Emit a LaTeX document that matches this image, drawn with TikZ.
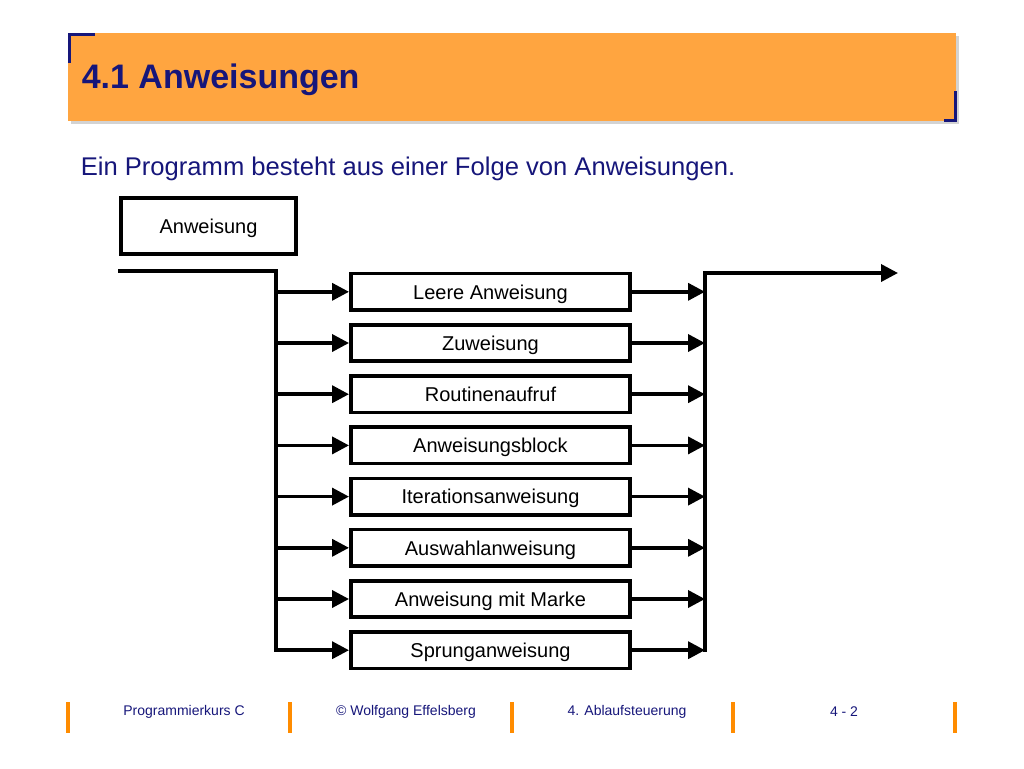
\documentclass[tikz,border=0pt]{standalone}
\usepackage{fontspec}
\setmainfont{Liberation Sans}
\usetikzlibrary{arrows.meta,matrix,shadows}
\definecolor{titleorange}{RGB}{255,165,64}
\definecolor{barorange}{RGB}{255,140,0}
\definecolor{navy}{RGB}{22,22,122}

\begin{document}
\begin{tikzpicture}[x=0.75pt,y=-0.75pt
	,>={Triangle[length=12.75pt,width=12.75pt]}
	,line width=2.7pt]
  \tikzstyle{stmt}
  =[draw,line width=2.7pt,minimum width=209.5pt,minimum height=27.3pt
  ,inner sep=0pt,text depth=0pt,font=\fontsize{15}{18}\selectfont]
  \tikzstyle{footbar}=[draw=barorange,line width=3pt]
  \tikzstyle{foot}=[text=navy,font=\fontsize{10.5}{12}\selectfont]

  \useasboundingbox (0,0) rectangle (1024,768);

  % title bar
  \fill[titleorange,drop shadow={opacity=0.35,shadow xshift=2pt,shadow yshift=-2pt}]
    (68,33) rectangle (956,121);
  \draw[navy,line width=2.25pt] (69,63) |- (95,34);
  \draw[navy,line width=2.25pt] (944,120) -| (955,91);
  \node[anchor=base west,inner sep=0pt,text=navy,font=\bfseries\fontsize{25.5}{30}\selectfont]
    (title) at (80,88) {4.1 Anweisungen};
  \node[anchor=base west,inner sep=0pt,text=navy,font=\fontsize{19.2}{23}\selectfont]
    (intro) at (79,175) {Ein Programm besteht aus einer Folge von Anweisungen.};

  % syntax diagram
  \node[stmt,minimum width=131.5pt,minimum height=42.3pt] (anw) at (208.5,226) {Anweisung};

  \matrix (m) [row sep=8.4pt] at (490.5,471) {
    \node[stmt](leer)   {Leere Anweisung};      \\
    \node[stmt](zuw)    {Zuweisung};            \\
    \node[stmt](rout)   {Routinenaufruf};       \\
    \node[stmt](block)  {Anweisungsblock};      \\
    \node[stmt](iter)   {Iterationsanweisung};  \\
    \node[stmt](ausw)   {Auswahlanweisung};     \\
    \node[stmt](marke)  {Anweisung mit Marke};  \\
    \node[stmt](sprung) {Sprunganweisung};      \\
  };

  \coordinate (in)    at (118,271);
  \coordinate (split) at (276,271);
  \coordinate (join)  at (705,273);
  \coordinate (out)   at (898,273);

  % left: in, split, branches
  \draw[->] (in) -- (split) |- (sprung.west);
  \foreach \n in {leer,zuw,rout,block,iter,ausw,marke}
    \draw[->] (split |- \n.west) -- (\n.west);
  % right: branches, join, out
  \foreach \n in {leer,zuw,rout,block,iter,ausw,marke,sprung}
    \draw[->] (\n.east) -- (join |- \n.east);
  \draw[->,line cap=rect] (join |- sprung.east) -- (join) -- (out);

  % footer
  \foreach \x in {68,290,512,733,955}
    \draw[footbar] (\x,702) -- (\x,733);
  \node[foot] (kurs)  at (184,712) {Programmierkurs C};
  \node[foot] (autor) at (406,712) {© Wolfgang Effelsberg};
  \node[foot] (kap)   at (627,712) {4. Ablaufsteuerung};
  \node[foot] (seite) at (844,712) {4 - 2};
\end{tikzpicture}
\end{document}
